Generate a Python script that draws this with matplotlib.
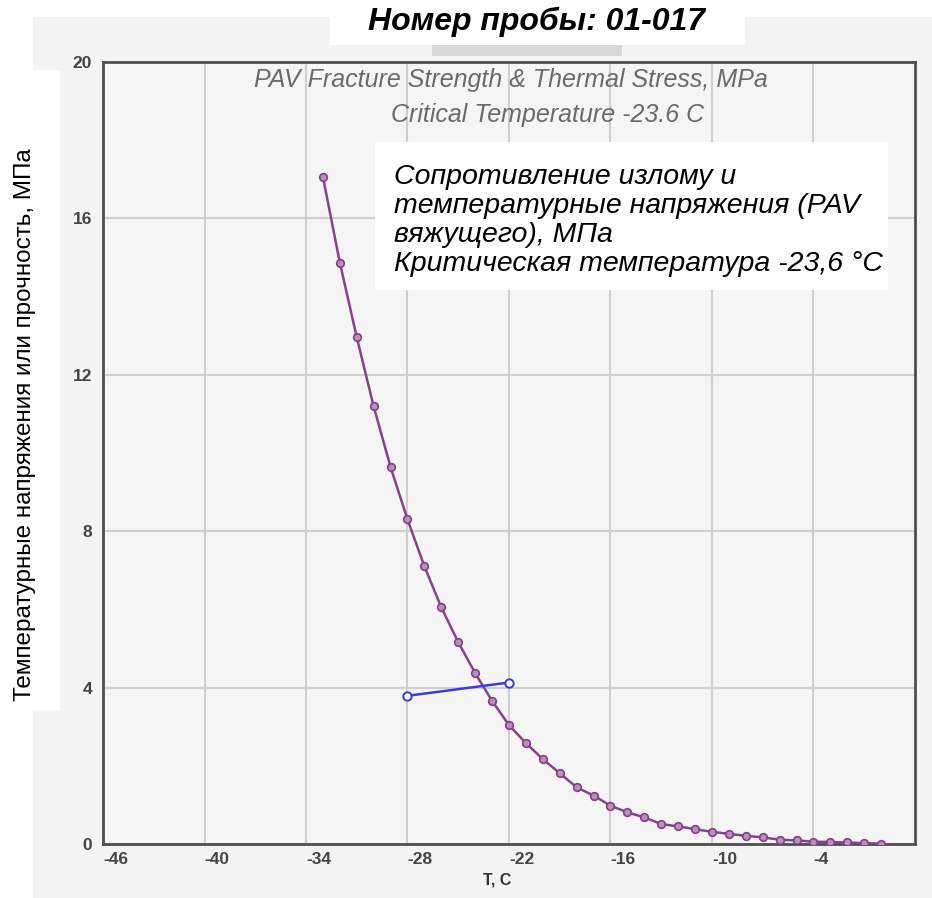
import matplotlib.pyplot as plt
from matplotlib.patches import Rectangle

plt.rcParams['axes.unicode_minus'] = False

temps = [-33, -32, -31, -30, -29, -28, -27, -26, -25, -24, -23, -22, -21, -20, -19, -18, -17,
         -16, -15, -14, -13, -12, -11, -10, -9, -8, -7, -6, -5, -4, -3, -2, -1, 0]
stress = [17.06, 14.87, 12.96, 11.19, 9.64, 8.30, 7.10, 6.05, 5.16, 4.37, 3.66, 3.04, 2.58, 2.17,
          1.81, 1.45, 1.24, 0.98, 0.81, 0.68, 0.51, 0.45, 0.38, 0.31, 0.26, 0.21, 0.17, 0.11,
          0.09, 0.06, 0.05, 0.04, 0.02, 0.01]
strength_t = [-28, -22]
strength = [3.79, 4.13]

xticks = [-46, -40, -34, -28, -22, -16, -10, -4]
yticks = [0, 4, 8, 12, 16, 20]

W, H = 932, 898
fig = plt.figure(figsize=(W / 100, H / 100), dpi=100)
fig.patch.set_facecolor('white')


def px_rect(x0, y0, x1, y1, color, z):
    # rectangle given in image pixels (origin top-left)
    fig.patches.append(Rectangle((x0 / W, 1 - y1 / H), (x1 - x0) / W, (y1 - y0) / H,
                                 transform=fig.transFigure, facecolor=color,
                                 edgecolor='none', zorder=z))


px_rect(33, 17, W, H, '#f4f4f4', -2)
px_rect(432, 45, 622, 56, '#d8d8d8', -1)

ax = fig.add_axes([103 / W, 1 - 844 / H, (915 - 103) / W, (844 - 62) / H])
ax.set_facecolor('#f5f5f5')

ax.plot(temps, stress, color='#84448a', lw=1.8, marker='o', ms=5.5,
        mfc='#b792b7', mec='#873c8b', mew=1.2, zorder=3)
ax.plot(strength_t, strength, color='#3b3bdb', lw=1.8, marker='o', ms=6,
        mfc='white', mec='#3b3bdb', mew=1.4, zorder=3)

ax.set_xlim(-46, 2)
ax.set_ylim(0, 20)
ax.set_xticks(xticks)
ax.set_yticks(yticks)
ax.grid(True, color='#cfcfcf', lw=1.5)
ax.set_axisbelow(True)
for s in ax.spines.values():
    s.set_color('#4f4f4f')
    s.set_linewidth(2)
ax.tick_params(length=0, labelsize=12.5, labelcolor='#444444')
ax.tick_params(axis='y', pad=8)
ax.tick_params(axis='x', pad=6)
for lab in ax.get_xticklabels() + ax.get_yticklabels():
    lab.set_family('Liberation Sans')
    lab.set_fontweight('bold')
for lab in ax.get_xticklabels():
    lab.set_horizontalalignment('left')

fig.text(497 / W, 1 - 880 / H, 'T, C', ha='center', va='center', fontsize=11.5,
         fontweight='bold', color='#333333', family='Liberation Sans')

ax.text(0.502, 0.977, 'PAV Fracture Strength & Thermal Stress, MPa', transform=ax.transAxes,
        ha='center', va='center', fontsize=18, style='italic', color='#6a6a6a',
        family='Liberation Sans')
ax.text(0.548, 0.932, 'Critical Temperature -23.6 C', transform=ax.transAxes,
        ha='center', va='center', fontsize=18, style='italic', color='#6a6a6a',
        family='Liberation Sans')

# white overlays with russian captions
px_rect(330, 0, 745, 45, 'white', 5)
fig.text(537 / W, 1 - 22 / H, 'Номер пробы: 01-017', ha='center', va='center',
         fontsize=23, fontweight='bold', style='italic', family='Liberation Sans', zorder=6)

px_rect(0, 70, 60, 710, 'white', 5)
fig.text(25 / W, 1 - 425 / H, 'Температурные напряжения или прочность, МПа', rotation=90,
         ha='center', va='center', fontsize=17.5, family='Liberation Sans', zorder=6)

px_rect(375, 142, 888, 290, 'white', 5)
fig.text(394 / W, 1 - 164 / H,
         'Сопротивление излому и\nтемпературные напряжения (PAV\nвяжущего), МПа\n'
         'Критическая температура -23,6 °C',
         ha='left', va='top', fontsize=20.5, style='italic', family='Liberation Sans',
         linespacing=1.15, zorder=6)

plt.savefig('out.png', dpi=100)
